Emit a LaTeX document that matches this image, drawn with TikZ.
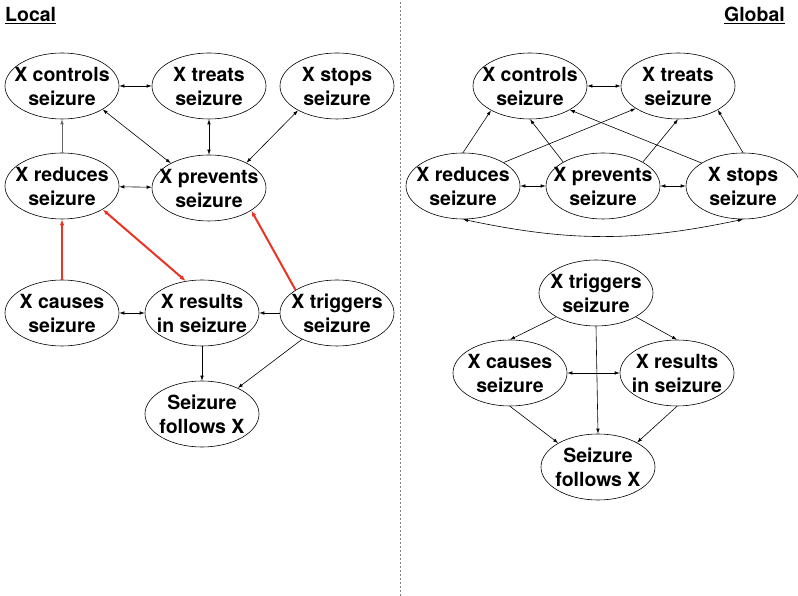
\documentclass[tikz,border=0pt]{standalone}
\usepackage{fontspec}
\usepackage{xcolor}
\setmainfont{TeX Gyre Heros}
\usetikzlibrary{arrows.meta,shapes.geometric}

\definecolor{redlink}{RGB}{234,52,36}
\newcommand{\twolines}[2]{\makebox[0pt]{#1}\\\makebox[0pt]{#2}}

\begin{document}
\begin{tikzpicture}[x=1pt,y=1pt,
    verb/.style={ellipse,draw,line width=0.6pt,minimum width=114pt,minimum height=66pt,
      inner sep=0pt,align=center,font=\bfseries\fontsize{19.5}{24}\selectfont},
    title/.style={font=\bfseries\fontsize{19.5}{24}\selectfont,inner sep=0pt},
    oneway/.style={-{Latex[length=5pt,width=3.5pt]},line width=0.6pt},
    twoway/.style={{Latex[length=5pt,width=3.5pt]}-{Latex[length=5pt,width=3.5pt]},line width=0.6pt},
    redway/.style={line width=2pt,redlink},
]
\useasboundingbox (0,0) rectangle (798,596);

% titles and divider
\node[title,anchor=base west] (local) at (5,574) {\underline{Local}};
\node[title,anchor=base east] (global) at (785,574) {\underline{Global}};
\draw[gray,line width=0.6pt,dash pattern=on 2pt off 2pt] (400,0) -- (400,596);

% local
\node[verb] (lcontrols) at (62,510) {\twolines{X controls}{seizure}};
\node[verb] (ltreats) at (209,510) {\twolines{X treats}{seizure}};
\node[verb] (lstops) at (337,510) {\twolines{X stops}{seizure}};
\node[verb] (lreduces) at (62,410) {\twolines{X reduces}{seizure}};
\node[verb] (lprevents) at (209,408) {\twolines{X prevents}{seizure}};
\node[verb] (lcauses) at (62,283) {\twolines{X causes}{seizure}};
\node[verb] (lresults) at (202,283) {\twolines{X results}{in seizure}};
\node[verb] (ltriggers) at (337,283) {\twolines{X triggers}{seizure}};
\node[verb] (lfollows) at (202,182) {\twolines{Seizure}{follows X}};

\draw[twoway] (lcontrols) -- (ltreats);
\draw[twoway] (lcontrols.-30) -- (lprevents.147);
\draw[twoway] (ltreats) -- (lprevents);
\draw[twoway] (lstops.-148) -- (lprevents.34);
\draw[oneway,black!60] (lreduces.north) -- (lcontrols.south);
\draw[twoway] (lreduces) -- (lprevents);
\draw[redway,-{Latex[length=6pt,width=4.5pt]}] (lcauses.north) -- (lreduces.south);
\draw[redway,{Latex[length=6pt,width=4.5pt]}-{Latex[length=6pt,width=4.5pt]}] (lreduces.-30) -- (lresults.117);
\draw[redway,-{Latex[length=6pt,width=4.5pt]}] (ltriggers.151) -- (lprevents.-28);
\draw[twoway] (lcauses) -- (lresults);
\draw[oneway] (ltriggers) -- (lresults);
\draw[oneway] (lresults) -- (lfollows);
\draw[oneway] (ltriggers.-143) -- (lfollows.36);

% global
\node[verb] (rcontrols) at (530,510) {\twolines{X controls}{seizure}};
\node[verb] (rtreats) at (678,510) {\twolines{X treats}{seizure}};
\node[verb] (rreduces) at (463,410) {\twolines{X reduces}{seizure}};
\node[verb] (rprevents) at (603,410) {\twolines{X prevents}{seizure}};
\node[verb] (rstops) at (743,410) {\twolines{X stops}{seizure}};
\node[verb] (rtriggers) at (596,303) {\twolines{X triggers}{seizure}};
\node[verb] (rcauses) at (510,223) {\twolines{X causes}{seizure}};
\node[verb] (rresults) at (677,223) {\twolines{X results}{in seizure}};
\node[verb] (rfollows) at (598,129) {\twolines{Seizure}{follows X}};

\draw[twoway] (rcontrols) -- (rtreats);
\draw[oneway] (rreduces.north) -- (rcontrols.-148);
\draw[oneway] (rreduces.30) -- (rtreats.-152);
\draw[oneway] (rprevents.149) -- (rcontrols.south);
\draw[oneway] (rprevents.31) -- (rtreats.south);
\draw[oneway] (rstops.151) -- (rcontrols.-31);
\draw[oneway] (rstops.north) -- (rtreats.-31);
\draw[twoway] (rreduces) -- (rprevents);
\draw[twoway] (rprevents) -- (rstops);
\draw[twoway] (rreduces.south) to[bend right=12] (rstops.south);
\draw[oneway] (rtriggers.-149) -- (rcauses.north);
\draw[oneway] (rtriggers.-31) -- (rresults.north);
\draw[oneway] (rtriggers.south) -- (rfollows.north);
\draw[twoway] (rcauses) -- (rresults);
\draw[oneway] (rcauses.south) -- (rfollows.149);
\draw[oneway] (rresults.south) -- (rfollows.32);

\end{tikzpicture}
\end{document}
